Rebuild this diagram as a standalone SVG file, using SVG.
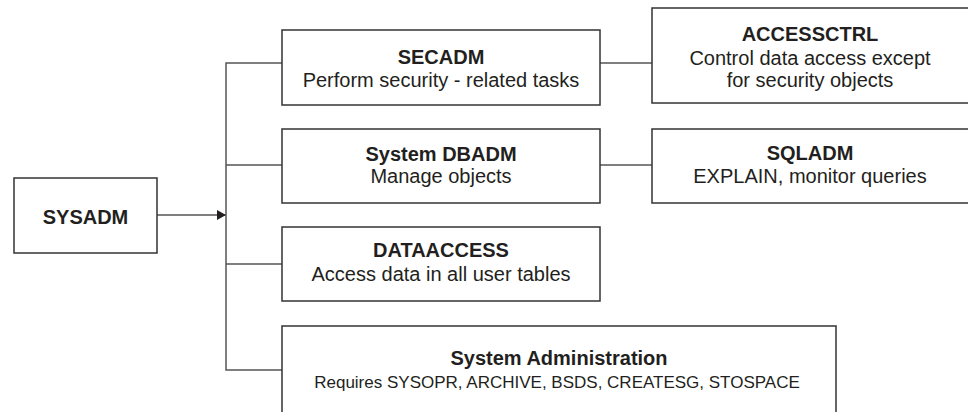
<svg xmlns="http://www.w3.org/2000/svg" width="968" height="412" viewBox="0 0 968 412">
<style>
.box{fill:#fff;stroke:#333;stroke-width:1.5}
.ln{fill:none;stroke:#555;stroke-width:1.5}
text{font-family:"Liberation Sans",Arial,sans-serif;fill:#231f20;text-anchor:middle}
.b{font-weight:bold;font-size:20px}
.n{font-size:20px}
.s{font-size:17px}
</style>
<defs>
<marker id="arr" markerWidth="10" markerHeight="10" refX="9" refY="5" orient="auto" markerUnits="userSpaceOnUse">
<path d="M0,0 L9,5 L0,10 Z" fill="#231f20"/>
</marker>
</defs>
<rect width="968" height="412" fill="#fff"/>
<g id="connectors">
<line class="ln" x1="157" y1="215" x2="226" y2="215" marker-end="url(#arr)"/>
<path class="ln" d="M282,63 H226 V370 H282"/>
<line class="ln" x1="226" y1="165" x2="282" y2="165"/>
<line class="ln" x1="226" y1="264" x2="282" y2="264"/>
<line class="ln" x1="600" y1="63" x2="652" y2="63"/>
<line class="ln" x1="600" y1="165" x2="652" y2="165"/>
</g>
<g id="sysadm">
<rect class="box" x="14" y="178" width="143" height="75"/>
<text class="b" x="85.5" y="224">SYSADM</text>
</g>
<g id="secadm">
<rect class="box" x="282" y="30" width="318" height="75"/>
<text class="b" x="441" y="64">SECADM</text>
<text class="n" x="441" y="87">Perform security - related tasks</text>
</g>
<g id="sysdbadm">
<rect class="box" x="282" y="129" width="318" height="74"/>
<text class="b" x="441" y="161">System DBADM</text>
<text class="n" x="441" y="183">Manage objects</text>
</g>
<g id="dataaccess">
<rect class="box" x="282" y="227" width="318" height="74"/>
<text class="b" x="441" y="257">DATAACCESS</text>
<text class="n" x="441" y="281">Access data in all user tables</text>
</g>
<g id="sysadmin">
<rect class="box" x="282" y="326" width="554" height="100"/>
<text class="b" x="559" y="365">System Administration</text>
<text class="s" x="557" y="388">Requires SYSOPR, ARCHIVE, BSDS, CREATESG, STOSPACE</text>
</g>
<g id="accessctrl">
<rect class="box" x="652" y="8" width="318" height="95"/>
<text class="b" x="810" y="41">ACCESSCTRL</text>
<text class="n" x="810" y="65">Control data access except</text>
<text class="n" x="810" y="87">for security objects</text>
</g>
<g id="sqladm">
<rect class="box" x="652" y="129" width="318" height="74"/>
<text class="b" x="810" y="160">SQLADM</text>
<text class="n" x="810" y="183">EXPLAIN, monitor queries</text>
</g>
</svg>
